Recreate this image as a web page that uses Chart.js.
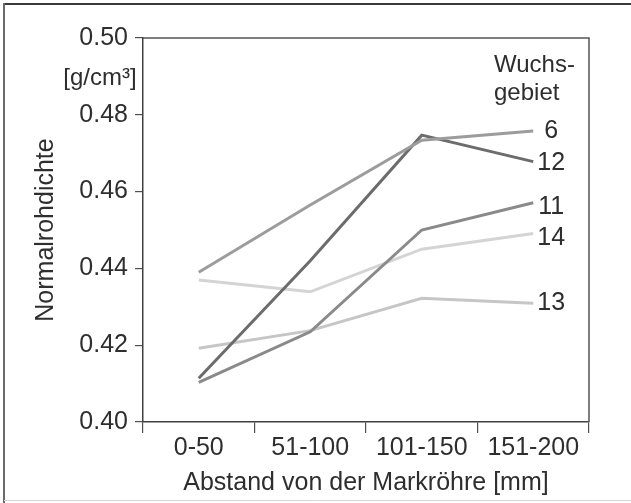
<!DOCTYPE html>
<html>
<head>
<meta charset="utf-8">
<script src="https://cdn.jsdelivr.net/npm/chart.js@4/dist/chart.umd.min.js"></script>
<style>
  html, body { margin: 0; padding: 0; background: #fff; }
  #wrap { width: 631px; height: 503px; position: relative; }
</style>
</head>
<body>
<div id="wrap"><canvas id="c" width="631" height="503"></canvas></div>
<script>
// ---- data ----
const categories = ['0-50', '51-100', '101-150', '151-200'];
const seriesNames = ['6', '12', '11', '14', '13'];
const wg6  = [0.439, 0.4565, 0.4734, 0.4758];
const wg12 = [0.4114, 0.442, 0.4747, 0.4678];
const wg11 = [0.4103, 0.4235, 0.450, 0.4571];
const wg14 = [0.437, 0.4339, 0.445, 0.4491];
const wg13 = [0.4192, 0.4238, 0.4322, 0.4309];
const yTicks = [0.40, 0.42, 0.44, 0.46, 0.48, 0.50];
const yTitle = 'Normalrohdichte';
const yUnit = '[g/cm³]';
const xTitle = 'Abstand von der Markröhre [mm]';
const legendTitle = ['Wuchs-', 'gebiet'];

const FONT = '"Liberation Sans", Arial, Helvetica, sans-serif';
const TXT = '#2e2e2e';

const seriesValues = [wg6, wg12, wg11, wg14, wg13];
const seriesColors = ['#9c9c9c', '#6c6c6c', '#8a8a8a', '#d4d4d4', '#c6c6c6'];
const labelDy = [0, 1, 4, 5, 0];

const datasets = seriesNames.map((n, i) => ({
  label: n,
  data: seriesValues[i],
  borderColor: seriesColors[i],
  backgroundColor: seriesColors[i],
  borderWidth: 3,
  pointRadius: 0,
  tension: 0,
  fill: false,
  labelDy: labelDy[i]
}));

const decor = {
  id: 'decor',
  beforeDraw(chart) {
    const ctx = chart.ctx;
    ctx.save();
    ctx.fillStyle = '#fff';
    ctx.fillRect(0, 0, chart.width, chart.height);
    // outer frame (top, left, bottom)
    ctx.strokeStyle = '#3a3a3a';
    ctx.lineWidth = 2;
    ctx.beginPath(); ctx.moveTo(3, 4); ctx.lineTo(chart.width, 4); ctx.stroke();
    ctx.strokeStyle = '#6a6a6a';
    ctx.beginPath(); ctx.moveTo(4, 3); ctx.lineTo(4, chart.height); ctx.stroke();
    ctx.strokeStyle = '#d8d8d8';
    ctx.lineWidth = 1;
    ctx.beginPath(); ctx.moveTo(4, 500.5); ctx.lineTo(chart.width, 500.5); ctx.stroke();
    ctx.restore();
  },
  afterDraw(chart) {
    const ctx = chart.ctx;
    const a = chart.chartArea;
    ctx.save();
    // plot box top + right
    ctx.strokeStyle = '#555';
    ctx.lineWidth = 1.5;
    ctx.beginPath();
    ctx.moveTo(a.left, a.top);
    ctx.lineTo(a.right, a.top);
    ctx.lineTo(a.right, a.bottom);
    ctx.stroke();
    // unit label
    ctx.fillStyle = TXT;
    ctx.font = '24px ' + FONT;
    ctx.textAlign = 'center';
    ctx.textBaseline = 'middle';
    ctx.fillText(yUnit, a.left - 43, a.top + 40);
    // legend title
    ctx.textAlign = 'left';
    ctx.textBaseline = 'alphabetic';
    ctx.fillText(legendTitle[0], a.right - 95, a.top + 34);
    ctx.fillText(legendTitle[1], a.right - 95, a.top + 62);
    // series labels at line ends
    ctx.font = '25px ' + FONT;
    ctx.textAlign = 'center';
    ctx.textBaseline = 'middle';
    chart.data.datasets.forEach((ds, i) => {
      const meta = chart.getDatasetMeta(i);
      const p = meta.data[meta.data.length - 1];
      ctx.fillText(ds.label, p.x + 18, p.y + (ds.labelDy || 0));
    });
    ctx.restore();
  }
};

new Chart(document.getElementById('c'), {
  type: 'line',
  data: { labels: categories, datasets },
  options: {
    responsive: false,
    animation: false,
    events: [],
    layout: { padding: { top: 38, right: 42, left: 0, bottom: 0 } },
    plugins: { legend: { display: false }, tooltip: { enabled: false } },
    scales: {
      x: {
        offset: true,
        afterFit(s) { s.height = 81; },
        border: { display: true, color: '#404040', width: 1.5 },
        grid: { offset: true, drawOnChartArea: false, drawTicks: true, tickLength: 11, color: '#505050', lineWidth: 1.2 },
        ticks: { color: TXT, font: { family: FONT, size: 25 }, padding: 0, maxRotation: 0 },
        title: { display: true, text: xTitle, color: TXT, font: { family: FONT, size: 25 }, padding: { top: 0, bottom: 5 } }
      },
      y: {
        min: 0.40,
        max: 0.50,
        afterFit(s) { s.width = 143; },
        afterBuildTicks(s) { s.ticks = yTicks.map(v => ({ value: v })); },
        border: { display: true, color: '#404040', width: 1.5 },
        grid: { drawOnChartArea: false, drawTicks: true, tickLength: 8, color: '#505050', lineWidth: 1.2 },
        ticks: { color: TXT, font: { family: FONT, size: 25 }, padding: 7, callback: v => Number(v).toFixed(2) },
        title: { display: true, text: yTitle, color: TXT, font: { family: FONT, size: 25 }, padding: { top: 31, bottom: 0 } }
      }
    }
  },
  plugins: [decor]
});
</script>
</body>
</html>
